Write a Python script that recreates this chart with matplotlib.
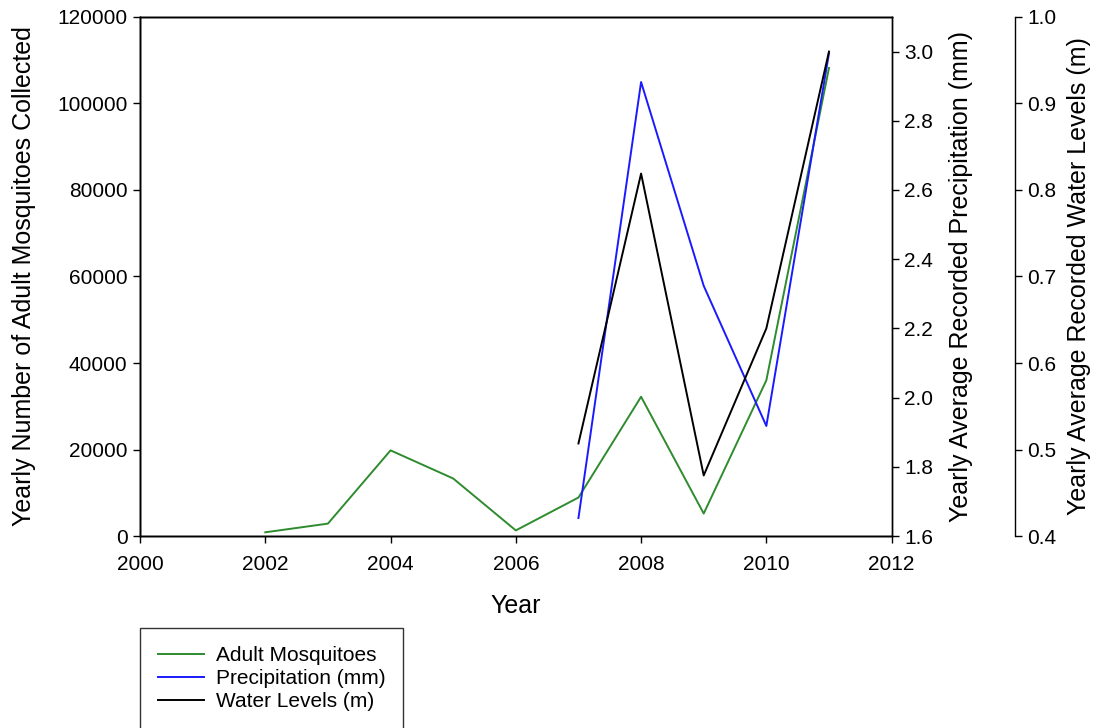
import matplotlib.pyplot as plt

plt.rcParams['font.family'] = ['Liberation Sans', 'DejaVu Sans']
plt.rcParams['font.size'] = 15

# data
years_mosq = [2002, 2003, 2004, 2005, 2006, 2007, 2008, 2009, 2010, 2011]
mosquitoes = [860, 2870, 19800, 13300, 1300, 8900, 32200, 5200, 36000, 108200]

years_env = [2007, 2008, 2009, 2010, 2011]
precip = [1.652, 2.912, 2.323, 1.918, 2.995]
water = [0.507, 0.819, 0.470, 0.640, 0.960]

fig = plt.figure(figsize=(10.94, 7.28), dpi=100)
ax = fig.add_axes((0.128, 0.2637, 0.687, 0.713))
ax2 = ax.twinx()
ax3 = ax.twinx()
ax3.spines['right'].set_position(('axes', 1.1636))

l1, = ax.plot(years_mosq, mosquitoes, color='#2e8b2e', lw=1.4, label='Adult Mosquitoes')
l2, = ax2.plot(years_env, precip, color='#1a1aff', lw=1.4, label='Precipitation (mm)')
l3, = ax3.plot(years_env, water, color='black', lw=1.4, label='Water Levels (m)')

ax.set_xlim(2000, 2012)
ax.set_xticks(range(2000, 2013, 2))
ax.set_ylim(0, 120000)
ax.set_yticks(range(0, 120001, 20000))
ax2.set_ylim(1.6, 3.1)
ax2.set_yticks([1.6, 1.8, 2.0, 2.2, 2.4, 2.6, 2.8, 3.0])
ax2.set_yticklabels(['1.6', '1.8', '2.0', '2.2', '2.4', '2.6', '2.8', '3.0'])
ax3.set_ylim(0.4, 1.0)
ax3.set_yticks([0.4, 0.5, 0.6, 0.7, 0.8, 0.9, 1.0])

for a in (ax, ax2, ax3):
    a.tick_params(direction='out', length=5, width=1, pad=4)
    for s in a.spines.values():
        s.set_linewidth(1)
ax.tick_params(axis='x', pad=9)

ax.set_xlabel('Year', fontsize=18, labelpad=14)
ax.set_ylabel('Yearly Number of Adult Mosquitoes Collected', fontsize=18, labelpad=15)
ax2.set_ylabel('Yearly Average Recorded Precipitation (mm)', fontsize=18, labelpad=11)
ax3.set_ylabel('Yearly Average Recorded Water Levels (m)', fontsize=18, labelpad=8)

leg = fig.legend(handles=[l1, l2, l3], loc='upper left', bbox_to_anchor=(0.128, 0.137),
                 frameon=True, fancybox=False, edgecolor='black', handlelength=2.2,
                 handletextpad=0.6, borderpad=0.85, labelspacing=0.2, borderaxespad=0)
leg.get_frame().set_linewidth(1)

fig.savefig('out.png', dpi=100)
